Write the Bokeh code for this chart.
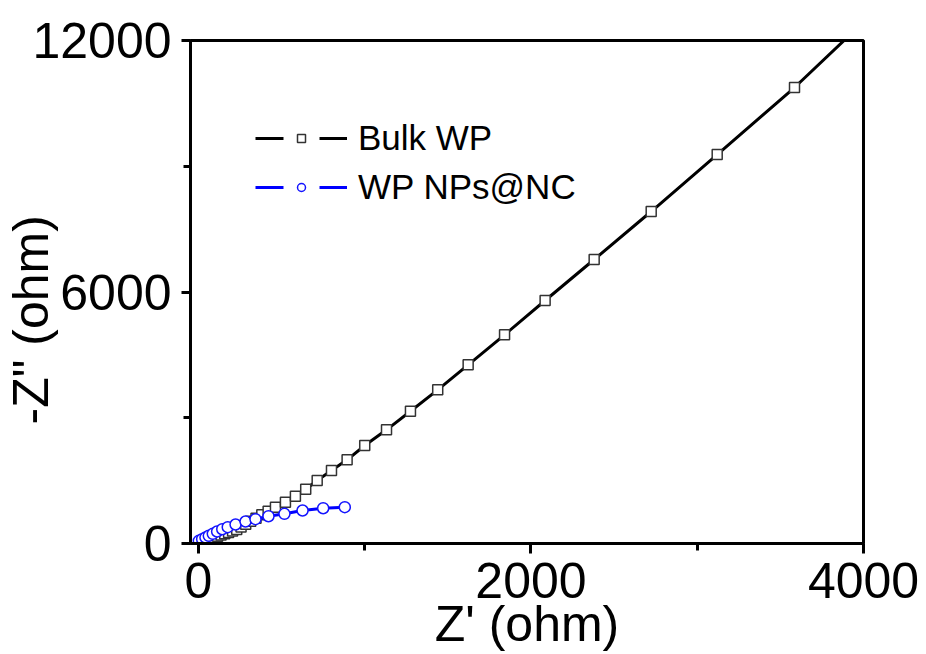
from bokeh.plotting import figure
from bokeh.models import Range1d, FixedTicker, Legend, LegendItem
from bokeh.embed import file_html
from bokeh.resources import INLINE

# Bulk WP (black squares)
bulk_x = [10, 25, 41, 58, 76, 95, 115, 136, 158, 181, 205, 230, 256, 284, 314, 346, 381,
          419, 463, 523, 583, 645, 714, 800, 894, 1000, 1131, 1275, 1439, 1622, 1841,
          2085, 2380, 2723, 3120, 3585, 4090]
bulk_y = [22, 43, 65, 90, 115, 142, 170, 200, 232, 265, 300, 335, 395, 460, 528, 602, 683,
          770, 866, 985, 1128, 1295, 1503, 1741, 1997, 2338, 2712, 3156, 3666, 4263, 4979,
          5797, 6775, 7920, 9280, 10878, 12780]

# WP NPs@NC (blue circles)
np_x = [2, 22, 42, 62, 86, 112, 143, 176, 223, 283, 343, 421, 517, 626, 750, 880]
np_y = [64, 103, 143, 184, 231, 286, 341, 389, 453, 525, 580, 651, 708, 787, 842, 866]

x_ticks = [0, 2000, 4000]
x_minor = [1000, 3000]
y_ticks = [0, 6000, 12000]
y_minor = [3000, 9000]

FONT = "Liberation Sans"
NAN = float("nan")

p = figure(width=926, height=654, output_backend="svg", toolbar_location=None,
           x_range=Range1d(-48, 4000), y_range=Range1d(0, 12000),
           min_border_left=190, min_border_right=63, min_border_top=40, min_border_bottom=111)
p.grid.visible = False
p.outline_line_color = "black"
p.outline_line_width = 3
p.background_fill_color = "white"
p.border_fill_color = "white"

l1 = p.line(bulk_x, bulk_y, line_color="black", line_width=3)
s1 = p.scatter(bulk_x, bulk_y, marker="square", size=10, fill_color="white",
               line_color="#333333", line_width=1.5)
l2 = p.line(np_x, np_y, line_color="#0000ff", line_width=3)
s2 = p.scatter(np_x, np_y, marker="circle", size=11, fill_color="white",
               line_color="#1414ff", line_width=1.5)

# undrawable (NaN) renderers used only to open a gap around the legend markers
g1 = p.scatter([NAN], [NAN], marker="square", size=8, fill_color="white", line_color="white", line_width=28)
g2 = p.scatter([NAN], [NAN], marker="square", size=8, fill_color="white", line_color="white", line_width=28)

legend = Legend(items=[LegendItem(label="Bulk WP", renderers=[l1, g1, s1], index=0),
                       LegendItem(label="WP NPs@NC", renderers=[l2, g2, s2], index=0)],
                location=(65, 336), glyph_width=92, glyph_height=20, label_standoff=11,
                spacing=9, padding=0, margin=0, border_line_color=None,
                background_fill_alpha=0, label_text_font=FONT, label_text_font_size="35px",
                label_text_color="black")
p.add_layout(legend)

xa = p.xaxis[0]
ya = p.yaxis[0]
xa.ticker = FixedTicker(ticks=x_ticks, minor_ticks=x_minor)
ya.ticker = FixedTicker(ticks=y_ticks, minor_ticks=y_minor)
xa.axis_label = "Z' (ohm)"
ya.axis_label = '-Z" (ohm)' + "\u00a0" * 4
for ax in (xa, ya):
    ax.axis_line_width = 3
    ax.axis_line_color = "black"
    ax.major_tick_line_width = 3
    ax.minor_tick_line_width = 3
    ax.major_tick_line_color = "black"
    ax.minor_tick_line_color = "black"
    ax.major_tick_in = 0
    ax.minor_tick_in = 0
    ax.minor_tick_out = 7
    ax.major_label_text_font = FONT
    ax.major_label_text_font_size = "50px"
    ax.major_label_text_color = "black"
    ax.axis_label_text_font = FONT
    ax.axis_label_text_font_size = "50px"
    ax.axis_label_text_font_style = "normal"
    ax.axis_label_text_color = "black"
xa.major_tick_out = 10
xa.major_label_standoff = 9
xa.axis_label_standoff = -5
ya.major_tick_out = 9
ya.major_label_standoff = 10
ya.axis_label_standoff = -30

open("out.html", "w").write(file_html(p, INLINE))
